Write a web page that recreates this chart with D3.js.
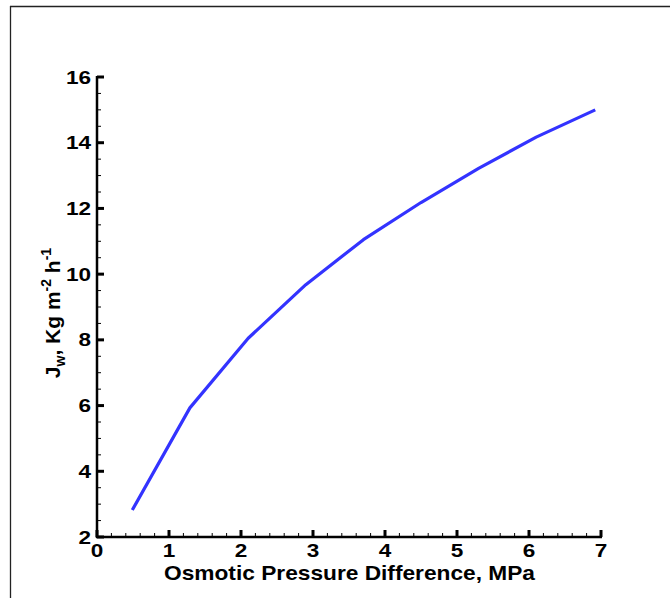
<!DOCTYPE html>
<html><head><meta charset="utf-8">
<script src="https://cdn.jsdelivr.net/npm/d3@7"></script>
<style>body{margin:0;background:#fff}svg{display:block}</style>
</head><body>
<script>
const xValues = [0.49, 1.29, 2.1, 2.9, 3.7, 4.5, 5.3, 6.1, 6.92];
const yValues = [2.82, 5.93, 8.05, 9.68, 11.05, 12.18, 13.22, 14.17, 15.0];
const xTicks = [0, 1, 2, 3, 4, 5, 6, 7];
const yTicks = [2, 4, 6, 8, 10, 12, 14, 16];

const W = 670, H = 598;
const svg = d3.select("body").append("svg").attr("width", W).attr("height", H);
const x = d3.scaleLinear().domain([0, 7]).range([97, 601]);
const y = d3.scaleLinear().domain([2, 16]).range([537, 77]);
const font = "'Liberation Sans', Arial, sans-serif";

// frame
svg.append("line").attr("x1", 10).attr("x2", 670).attr("y1", 6.5).attr("y2", 6.5).attr("stroke", "#222").attr("stroke-width", 1.3);
svg.append("line").attr("x1", 10.5).attr("x2", 10.5).attr("y1", 6).attr("y2", 598).attr("stroke", "#222").attr("stroke-width", 1.3);

// minor ticks
const xMinor = d3.range(0, 7.001, 0.2).filter(v => Math.abs(v - Math.round(v)) > 1e-6);
const yMinor = d3.range(2, 16.001, 0.5).filter(v => Math.abs(v / 2 - Math.round(v / 2)) > 1e-6);

const g = svg.append("g");
g.selectAll(".xm").data(xMinor).join("line")
  .attr("x1", d => x(d)).attr("x2", d => x(d)).attr("y1", 537).attr("y2", 533)
  .attr("stroke", "#000").attr("stroke-width", 1);
g.selectAll(".ym").data(yMinor).join("line")
  .attr("y1", d => y(d)).attr("y2", d => y(d)).attr("x1", 97).attr("x2", 101)
  .attr("stroke", "#000").attr("stroke-width", 1);
g.selectAll(".xM").data(xTicks).join("line")
  .attr("x1", d => x(d)).attr("x2", d => x(d)).attr("y1", 537).attr("y2", 530)
  .attr("stroke", "#000").attr("stroke-width", 3);
g.selectAll(".yM").data(yTicks).join("line")
  .attr("y1", d => y(d)).attr("y2", d => y(d)).attr("x1", 97).attr("x2", 104)
  .attr("stroke", "#000").attr("stroke-width", 3);

// axis lines
g.append("line").attr("x1", 96).attr("x2", 602).attr("y1", 537).attr("y2", 537).attr("stroke", "#000").attr("stroke-width", 2.5);
g.append("line").attr("x1", 97).attr("x2", 97).attr("y1", 76).attr("y2", 538).attr("stroke", "#000").attr("stroke-width", 2.5);

// tick labels (horizontally stretched like the original)
g.selectAll(".xl").data(xTicks).join("text")
  .attr("transform", d => `translate(${x(d)},557) scale(1.22,1)`).attr("text-anchor", "middle")
  .attr("font-family", font).attr("font-weight", "bold").attr("font-size", 18.5)
  .text(d => d);
g.selectAll(".yl").data(yTicks).join("text")
  .attr("transform", d => `translate(91,${y(d) + 6.5}) scale(1.22,1)`).attr("text-anchor", "end")
  .attr("font-family", font).attr("font-weight", "bold").attr("font-size", 18.5)
  .text(d => d);

// axis titles
svg.append("text").attr("x", 349.5).attr("y", 580).attr("text-anchor", "middle")
  .attr("font-family", font).attr("font-weight", "bold").attr("font-size", 21)
  .attr("textLength", 371).attr("lengthAdjust", "spacingAndGlyphs")
  .text("Osmotic Pressure Difference, MPa");

const yt = svg.append("text").attr("transform", "translate(60,313) rotate(-90)")
  .attr("text-anchor", "middle").attr("font-family", font).attr("font-weight", "bold").attr("font-size", 21);
yt.append("tspan").text("J");
yt.append("tspan").attr("dy", 5).attr("font-size", 14).text("w");
yt.append("tspan").attr("dy", -5).text(", Kg m");
yt.append("tspan").attr("dy", -9).attr("font-size", 14).text("-2");
yt.append("tspan").attr("dy", 9).text(" h");
yt.append("tspan").attr("dy", -9).attr("font-size", 14).text("-1");

// line
const data = xValues.map((v, i) => [v, yValues[i]]);
svg.append("path").datum(data)
  .attr("d", d3.line().x(d => x(d[0])).y(d => y(d[1])))
  .attr("fill", "none").attr("stroke", "#3333ff").attr("stroke-width", 3.2)
  .attr("stroke-linejoin", "round");
</script>
</body></html>
